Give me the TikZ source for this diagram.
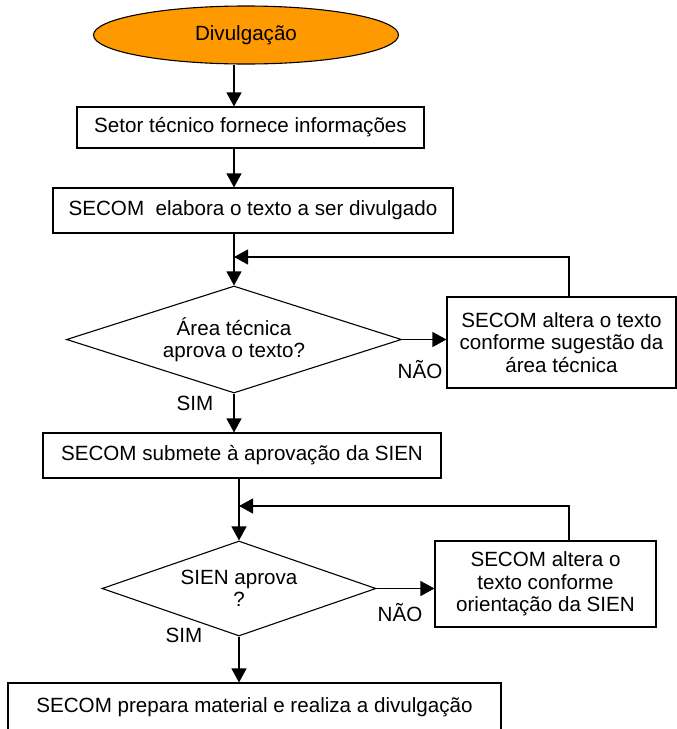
\documentclass[tikz,border=0pt]{standalone}
\usepackage{fontspec}
\setmainfont{Liberation Sans}
\usepackage{tikz}
\usetikzlibrary{shapes.geometric}
\usetikzlibrary{arrows.meta}
\usetikzlibrary{calc}
\definecolor{divorange}{HTML}{FF9900}
\tikzset{
    flowbox/.style={draw, rectangle, line width=1.1pt, inner sep=0pt, align=center},
    decision/.style={draw, diamond, line width=1.1pt, inner sep=0pt, align=center},
    flow/.style={draw, line width=1.1pt, -{Triangle[length=14pt,width=15pt]}},
    answer/.style={inner sep=0pt}
}
\begin{document}
\begin{tikzpicture}[x=1pt, y=-1pt, font=\fontsize{20.6}{22.5}\selectfont]
            \useasboundingbox (0,0) rectangle (677,729);
            \coordinate (spineA) at (234,0);
            \coordinate (spineB) at (239,0);
            \coordinate (loopA) at (569,257);
            \coordinate (loopB) at (569,506);
            \coordinate (joinA) at (spineA |- loopA);
            \coordinate (joinB) at (spineB |- loopB);
            \node[draw, ellipse, line width=1.1pt, fill=divorange, inner sep=0pt,
                minimum width=305pt, minimum height=58pt] (start) at (246,35) {Divulgação};
            \node[flowbox, minimum width=347pt, minimum height=41pt] (info) at (250.5,127.5)
                {Setor técnico fornece informações};
            \node[flowbox, minimum width=400pt, minimum height=45pt] (write) at (253,210.5)
                {SECOM\ \ elabora o texto a ser divulgado};
            \node[decision, shape aspect=3.13, minimum width=335pt, minimum height=107pt] (techok) at (234,339.5)
                {Área técnica\\aprova o texto?};
            \node[flowbox, minimum width=229pt, minimum height=91pt] (techfix) at (561.5,342.5)
                {SECOM altera o texto\\conforme sugestão da\\área técnica};
            \node[flowbox, minimum width=398pt, minimum height=45pt] (submit) at (242,455.5)
                {SECOM submete à aprovação da SIEN};
            \node[decision, shape aspect=2.88, minimum width=274pt, minimum height=95pt] (sienok) at (239,588.5)
                {SIEN aprova\\?};
            \node[flowbox, minimum width=221pt, minimum height=86pt] (sienfix) at (545.5,584)
                {SECOM altera o\\texto conforme\\orientação da SIEN};
            \node[flowbox, minimum width=493pt, minimum height=62pt, text depth=18pt] (publish) at (254.5,714)
                {SECOM prepara material e realiza a divulgação};
            \node[answer] (noA) at (420,370) {NÃO};
            \node[answer] (yesA) at (195,403) {SIM};
            \node[answer] (noB) at (400,613) {NÃO};
            \node[answer] (yesB) at (184,635) {SIM};
            \draw[flow] (start.south -| spineA) -- (info.north -| spineA);
            \draw[flow] (info.south -| spineA) -- (write.north -| spineA);
            \draw[flow] (write.south -| spineA) -- (techok.north);
            \draw[flow] (techfix.north -| loopA) -- (loopA) -- (joinA);
            \draw[flow] (techok.east) -- (techok.east -| techfix.west);
            \draw[flow] (techok.south) -- (techok.south |- submit.north);
            \draw[flow] (submit.south -| spineB) -- (sienok.north);
            \draw[flow] (sienfix.north -| loopB) -- (loopB) -- (joinB);
            \draw[flow] (sienok.east) -- (sienok.east -| sienfix.west);
            \draw[flow] (sienok.south) -- (sienok.south |- publish.north);
\end{tikzpicture}
\end{document}
